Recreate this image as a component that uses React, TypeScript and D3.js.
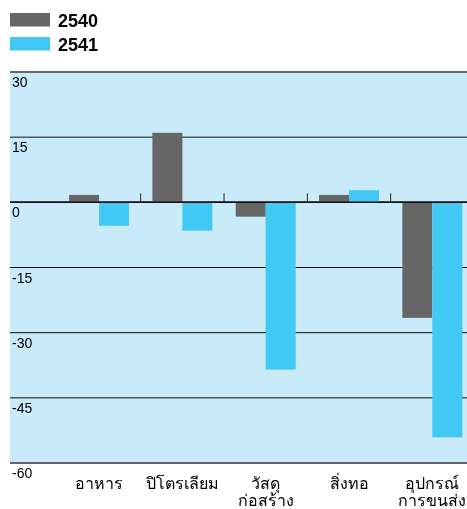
import React from "react";
import * as d3 from "d3";

const categories = [
  ["อาหาร"],
  ["ปิโตรเลียม"],
  ["วัสดุ", "ก่อสร้าง"],
  ["สิ่งทอ"],
  ["อุปกรณ์", "การขนส่ง"],
];
const years = ["2540", "2541"];
const values2540 = [1.7, 16, -3.3, 1.7, -26.6];
const values2541 = [-5.4, -6.5, -38.5, 2.8, -54.1];
const yTicks = [30, 15, 0, -15, -30, -45, -60];

const colors: Record<string, string> = { "2540": "#666666", "2541": "#41c8f4" };

const W = 467;
const H = 509;

export default function App() {
  const plotLeft = 10;
  const plotRight = 467;
  const y = d3.scaleLinear().domain([-60, 30]).range([463, 72]);
  const keys = categories.map((c) => c.join(""));
  const x = d3.scaleBand().domain(keys).range([57.4, 474]).padding(0);
  const xSub = d3
    .scaleBand()
    .domain(years)
    .range([0, x.bandwidth()])
    .paddingInner(0)
    .paddingOuter(0.39);

  const series = [values2540, values2541];

  return (
    <div style={{ position: "fixed", left: 0, top: 0 }}>
      <svg width={W} height={H} style={{ display: "block", fontFamily: "Liberation Sans, Arial, sans-serif" }}>
        {/* legend */}
        {years.map((yr, i) => (
          <g key={yr} transform={`translate(10,${13 + i * 24})`}>
            <rect width={40} height={13.5} fill={colors[yr]} />
            <text x={48} y={14} fontSize={18} fontWeight="bold" fill="#000">
              {yr}
            </text>
          </g>
        ))}

        <rect x={plotLeft} y={y(30)} width={plotRight - plotLeft} height={y(-60) - y(30)} fill="#c8eaf9" />

        {/* grid */}
        {yTicks.map((t) => {
          const edge = t === 30 || t === -60;
          return (
            <line
              key={t}
              x1={plotLeft}
              x2={plotRight}
              y1={y(t)}
              y2={y(t)}
              stroke={edge ? "#666" : "#111"}
              strokeWidth={edge ? 2 : t === 0 ? 1.5 : 1}
            />
          );
        })}

        {/* bars */}
        {keys.map((k, ci) => (
          <g key={k} transform={`translate(${x(k)},0)`}>
            {years.map((yr, si) => {
              const v = series[si][ci];
              return (
                <rect
                  key={yr}
                  x={xSub(yr)}
                  width={xSub.bandwidth()}
                  y={y(Math.max(0, v))}
                  height={Math.abs(y(v) - y(0))}
                  fill={colors[yr]}
                />
              );
            })}
          </g>
        ))}

        {/* category separators */}
        {keys.slice(1).map((k) => (
          <line key={k} x1={x(k)} x2={x(k)} y1={y(0) - 9} y2={y(0)} stroke="#222" strokeWidth={1} />
        ))}
        <line x1={plotLeft} x2={plotRight} y1={y(0)} y2={y(0)} stroke="#111" strokeWidth={1.5} />

        {/* y labels */}
        {yTicks.map((t) => (
          <text key={t} x={12} y={y(t) + 15} fontSize={14} fill="#000">
            {t}
          </text>
        ))}

        {/* x labels */}
        {categories.map((lines, ci) => (
          <text
            key={ci}
            x={(x(keys[ci]) as number) + x.bandwidth() / 2}
            y={489}
            fontSize={16}
            textAnchor="middle"
            fill="#000"
          >
            {lines.map((l, li) => (
              <tspan key={li} x={(x(keys[ci]) as number) + x.bandwidth() / 2} dy={li === 0 ? 0 : 17}>
                {l}
              </tspan>
            ))}
          </text>
        ))}
      </svg>
    </div>
  );
}
